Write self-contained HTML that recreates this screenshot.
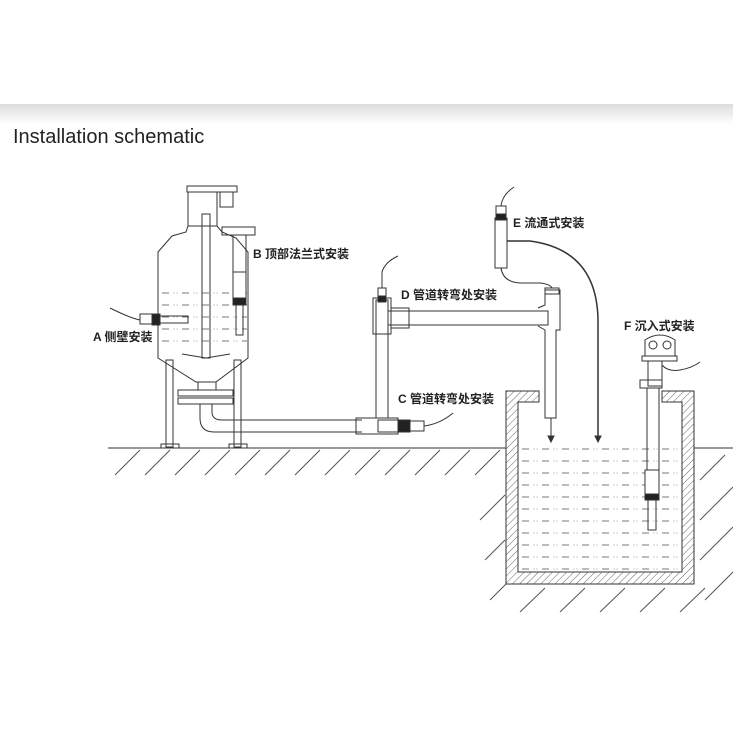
<!DOCTYPE html>
<html><head><meta charset="utf-8"><style>
html,body{margin:0;padding:0;background:#fff;width:733px;height:733px;overflow:hidden}
.band{position:absolute;left:0;top:104px;width:733px;height:20px;background:linear-gradient(#dcdcdc,#fff)}
.t{position:absolute;left:13px;top:126px;font:20px "Liberation Sans",sans-serif;color:#222}
svg{position:absolute;left:0;top:0}
text{font-family:"Liberation Sans","Noto Sans CJK SC",sans-serif;font-size:12px;fill:#222;font-weight:bold}
</style></head><body>
<div class="band"></div>
<div class="t">Installation schematic</div>
<svg width="733" height="733" viewBox="0 0 733 733">
<defs>
<pattern id="h" width="5" height="5" patternUnits="userSpaceOnUse" patternTransform="rotate(45)"><line x1="0" y1="0" x2="0" y2="5" stroke="#666" stroke-width="1"/></pattern>
<pattern id="w" width="20" height="12" patternUnits="userSpaceOnUse"><line x1="2" y1="5" x2="9" y2="5" stroke="#777" stroke-width="1"/><circle cx="14" cy="5" r=".6" fill="#aaa"/><circle cx="17" cy="5" r=".6" fill="#aaa"/></pattern>
</defs>
<g stroke="#333" fill="none" stroke-width="1">
<line x1="108" y1="448" x2="506" y2="448"/>
<line x1="694" y1="448" x2="733" y2="448"/>
<g stroke="#555">
<path d="M115 475 L140 450 M145 475 L170 450 M175 475 L200 450 M205 475 L230 450 M235 475 L260 450 M265 475 L290 450 M295 475 L320 450 M325 475 L350 450 M355 475 L380 450 M385 475 L410 450 M415 475 L440 450 M445 475 L470 450 M475 475 L500 450"/>
<path d="M480 520 L505 495 M485 560 L505 540 M490 600 L506 584 M520 612 L545 588 M560 612 L585 588 M600 612 L625 588 M640 612 L665 588 M680 612 L705 588 M700 520 L733 487 M700 560 L733 527 M705 600 L733 572 M700 480 L725 455"/>
</g>
<path d="M506 391 H539 V402 H518 V572 H682 V402 H662 V391 H694 V584 H506 Z" fill="url(#h)"/>
<rect x="519" y="443" width="162" height="128" fill="url(#w)" stroke="none"/>
<!-- vessel -->
<rect x="187" y="186" width="50" height="6"/>
<rect x="188" y="192" width="29" height="34"/>
<rect x="220" y="192" width="13" height="15"/>
<path d="M188 226 L186 232 L172 236 L158 252 V358 L196 382 H216 L248 358 V252 L236 238 L222 232 L217 226"/>
<rect x="159" y="290" width="88" height="62" fill="url(#w)" stroke="none"/>
<rect x="202" y="214" width="8" height="144"/>
<path d="M182 354 L206 358 L230 354"/>
<rect x="166" y="360" width="7" height="87"/><rect x="234" y="360" width="7" height="87"/>
<rect x="161" y="444" width="18" height="4"/><rect x="229" y="444" width="18" height="4"/>
<rect x="178" y="390" width="55" height="6"/><rect x="178" y="398" width="55" height="6"/>
<rect x="198" y="382" width="18" height="8"/>
<!-- B sensor -->
<rect x="222" y="227" width="33" height="8"/><rect x="233" y="235" width="13" height="64"/>
<rect x="233" y="272" width="13" height="26" fill="#fff"/><rect x="233" y="298" width="13" height="7" fill="#222"/>
<rect x="236" y="305" width="7" height="30"/>
<!-- A sensor -->
<path d="M110 308 Q130 318 140 320"/><rect x="140" y="314" width="12" height="10"/><rect x="152" y="314" width="8" height="11" fill="#222"/><rect x="160" y="316" width="28" height="7"/>
<!-- bottom pipe -->
<path d="M200 404 V418 Q200 432 214 432 H362"/><path d="M212 404 V412 Q212 420 222 420 H362"/>
<rect x="356" y="418" width="42" height="16"/><rect x="378" y="420" width="20" height="12"/><rect x="398" y="420" width="12" height="12" fill="#222"/><rect x="410" y="421" width="14" height="10"/>
<path d="M424 426 Q440 424 453 413"/>
<rect x="376" y="300" width="12" height="118"/>
<rect x="373" y="298" width="18" height="36"/>
<rect x="378" y="288" width="8" height="10"/><rect x="378" y="296" width="8" height="6" fill="#222"/>
<path d="M382 288 V272 Q385 262 398 256"/>
<rect x="388" y="311" width="160" height="14"/>
<rect x="391" y="308" width="18" height="20"/>
<path d="M538 308 L545 305 V290 H560 V330 H556 V418 H545 V330 L538 326"/>
<rect x="545" y="288" width="14" height="6"/>
<path d="M551 442 L548 436 H554 Z" fill="#333"/><line x1="551" y1="418" x2="551" y2="438"/>
<rect x="495" y="218" width="12" height="50"/><rect x="496" y="206" width="10" height="12"/><rect x="496" y="214" width="10" height="6" fill="#222"/>
<path d="M501 206 Q502 195 514 187"/>
<path d="M501 268 Q503 282 520 283 H540 Q550 284 552 288"/>
<path d="M507 241 H530 Q597 250 598 320 V437" stroke-width="1.5"/>
<path d="M598 442 L595 436 H601 Z" fill="#333"/>
<path d="M645 356 V340 Q660 330 675 340 V356 Z"/><rect x="642" y="356" width="35" height="5"/>
<circle cx="653" cy="345" r="4"/><circle cx="667" cy="345" r="4"/>
<rect x="648" y="361" width="14" height="25"/><rect x="640" y="380" width="22" height="8"/>
<path d="M662 365 Q668 372 680 370 Q692 368 700 362"/>
<rect x="647" y="388" width="12" height="92"/>
<rect x="645" y="470" width="14" height="30" fill="#fff"/><rect x="645" y="494" width="14" height="6" fill="#222"/>
<rect x="648" y="500" width="8" height="30"/>
</g>
<text x="93" y="341">A 侧壁安装</text>
<text x="253" y="258">B 顶部法兰式安装</text>
<text x="398" y="403">C 管道转弯处安装</text>
<text x="401" y="299">D 管道转弯处安装</text>
<text x="513" y="227">E 流通式安装</text>
<text x="624" y="330">F 沉入式安装</text>
</svg>
</body></html>
